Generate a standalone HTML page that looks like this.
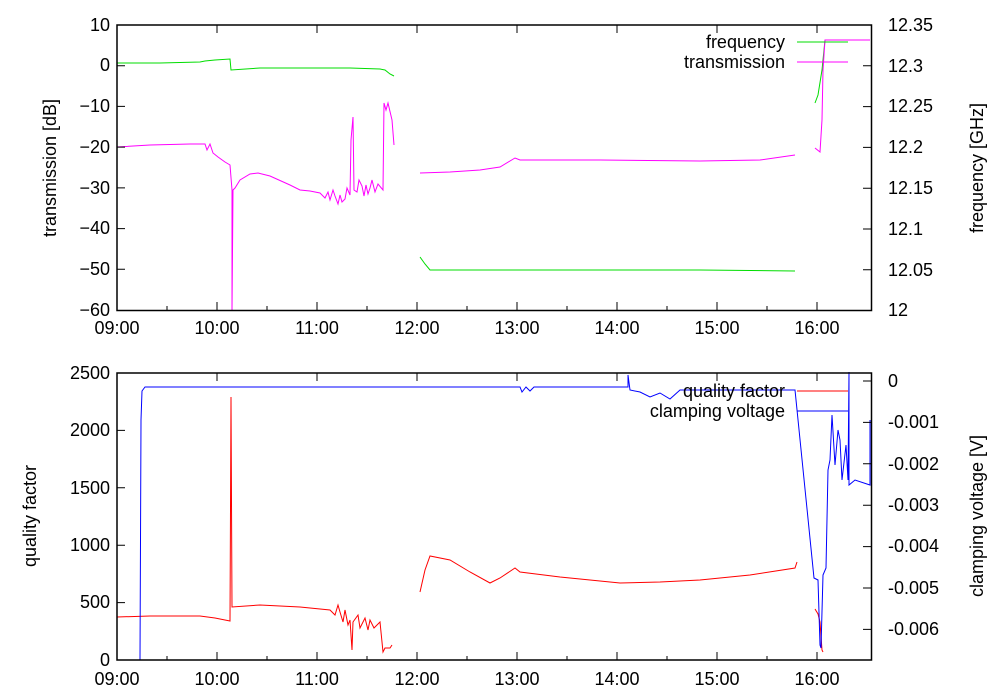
<!DOCTYPE html>
<html><head><style>
body{margin:0;background:#fff}
svg{display:block;font-family:"Liberation Sans",sans-serif;font-size:18px}
</style></head><body>
<svg width="1000" height="700" viewBox="0 0 1000 700">
<g fill="none" stroke-width="1">
<polyline stroke="#00dd00" points="117,63 160,63 200,62 205,61 215,60 230,59 231,70 260,68 300,68 350,68 380,69 385,70 390,74 394,76"/>
<polyline stroke="#00dd00" points="420,257 425,264 430,270 500,270 600,270 700,270 795,271"/>
<polyline stroke="#00dd00" points="815,103 818,95 822,70 825,40 870,40"/>
<polyline stroke="#ff00ff" points="117,147 150,145 190,144 205,144 207,150 210,144 213,153 218,157 225,162 230,165 232,190 232,311 233,190 235,188 240,180 250,174 258,173 270,176 290,185 300,190 310,191 320,193 325,198 328,192 330,200 333,190 335,196 338,204 340,195 342,202 345,199 347,188 350,195 351,140 353,117 354,190 357,192 359,180 362,186 364,196 366,185 368,194 370,188 372,180 375,192 378,184 383,190 384,103 386,110 388,103 392,120 394,145"/>
<polyline stroke="#ff00ff" points="420,173 450,172 480,170 500,167 515,158 520,160 600,160 700,161 760,160 795,155"/>
<polyline stroke="#ff00ff" points="815,148 820,152 822,120 823,70 825,40 870,40"/>
<polyline stroke="#ff0000" points="117,617 150,616 200,616 215,618 230,621 231,397 232,607 260,605 300,607 330,610 335,615 338,605 340,612 343,622 345,610 348,625 350,620 352,650 353,622 358,615 360,628 365,618 368,630 370,620 374,628 380,622 383,652 385,648 390,648 392,645"/>
<polyline stroke="#ff0000" points="420,592 425,570 430,556 450,560 470,572 490,583 500,578 515,568 520,572 560,577 620,583 660,582 700,580 750,575 795,568 797,562"/>
<polyline stroke="#ff0000" points="815,609 818,614 820,622 822,650 823,652"/>
<polyline stroke="#0000ff" points="140,660 141,420 142,391 145,387 300,387 500,387 520,387 522,392 526,387 530,391 534,387 600,387 628,387 628,375 630,390 640,392 650,397 660,393 670,399 680,390 700,390 795,390 814,578 818,580 820,645 821,648 823,575 826,568 828,470 830,460 832,415 835,465 838,430 840,440 842,480 846,445 848,480 849,372 849,485 855,480 870,485 870,420"/>
<line x1="797" y1="42" x2="848" y2="42" stroke="#00dd00"/>
<line x1="797" y1="62" x2="848" y2="62" stroke="#ff00ff"/>
<line x1="797" y1="391" x2="848" y2="391" stroke="#ff0000"/>
<line x1="797" y1="411" x2="848" y2="411" stroke="#0000ff"/>
<rect x="117" y="25" width="754.5" height="285.5" stroke="#000" stroke-width="1.5"/>
<rect x="117" y="373" width="754.5" height="287" stroke="#000" stroke-width="1.5"/>
<g stroke="#000">
<path d="M117,25h8M117,65.7h8M117,106.4h8M117,147.1h8M117,187.9h8M117,228.6h8M117,269.3h8
M871,25h-8M871,65.8h-8M871,106.6h-8M871,147.4h-8M871,188.2h-8M871,229h-8M871,269.8h-8
M217,310v-8M317,310v-8M417,310v-8M517,310v-8M617,310v-8M717,310v-8M817,310v-8
M167,310v-4M267,310v-4M367,310v-4M467,310v-4M567,310v-4M667,310v-4M767,310v-4
M217,25v8M317,25v8M417,25v8M517,25v8M617,25v8M717,25v8M817,25v8
M117,430.4h8M117,487.8h8M117,545.2h8M117,602.6h8
M871,381h-8M871,422.4h-8M871,463.8h-8M871,505.2h-8M871,546.6h-8M871,588h-8M871,629.4h-8
M217,660v-8M317,660v-8M417,660v-8M517,660v-8M617,660v-8M717,660v-8M817,660v-8
M167,660v-4M267,660v-4M367,660v-4M467,660v-4M567,660v-4M667,660v-4M767,660v-4
M217,373v8M317,373v8M417,373v8M517,373v8M617,373v8M717,373v8M817,373v8"/>
</g>
</g>
<g fill="#000">
<g text-anchor="end">
<text x="110" y="31">10</text><text x="110" y="71">0</text><text x="110" y="112">−10</text>
<text x="110" y="153">−20</text><text x="110" y="194">−30</text><text x="110" y="234">−40</text>
<text x="110" y="275">−50</text><text x="110" y="316">−60</text>
<text x="110" y="379">2500</text><text x="110" y="436">2000</text><text x="110" y="494">1500</text>
<text x="110" y="551">1000</text><text x="110" y="608">500</text><text x="110" y="666">0</text>
<text x="785" y="48">frequency</text><text x="785" y="68">transmission</text>
<text x="785" y="397">quality factor</text><text x="785" y="417">clamping voltage</text>
</g>
<g text-anchor="start">
<text x="888" y="31">12.35</text><text x="888" y="72">12.3</text><text x="888" y="112">12.25</text>
<text x="888" y="153">12.2</text><text x="888" y="194">12.15</text><text x="888" y="235">12.1</text>
<text x="888" y="276">12.05</text><text x="888" y="316">12</text>
<text x="888" y="387">0</text><text x="888" y="428">-0.001</text><text x="888" y="470">-0.002</text>
<text x="888" y="511">-0.003</text><text x="888" y="552">-0.004</text><text x="888" y="594">-0.005</text>
<text x="888" y="635">-0.006</text>
</g>
<g text-anchor="middle">
<text x="117" y="334">09:00</text><text x="217" y="334">10:00</text><text x="317" y="334">11:00</text>
<text x="417" y="334">12:00</text><text x="517" y="334">13:00</text><text x="617" y="334">14:00</text>
<text x="717" y="334">15:00</text><text x="817" y="334">16:00</text>
<text x="117" y="685">09:00</text><text x="217" y="685">10:00</text><text x="317" y="685">11:00</text>
<text x="417" y="685">12:00</text><text x="517" y="685">13:00</text><text x="617" y="685">14:00</text>
<text x="717" y="685">15:00</text><text x="817" y="685">16:00</text>
<text transform="translate(56,168) rotate(-90)">transmission [dB]</text>
<text transform="translate(36,516) rotate(-90)">quality factor</text>
<text transform="translate(983,168) rotate(-90)">frequency [GHz]</text>
<text transform="translate(983,516) rotate(-90)">clamping voltage [V]</text>
</g>
</g>
</svg>
</body></html>
